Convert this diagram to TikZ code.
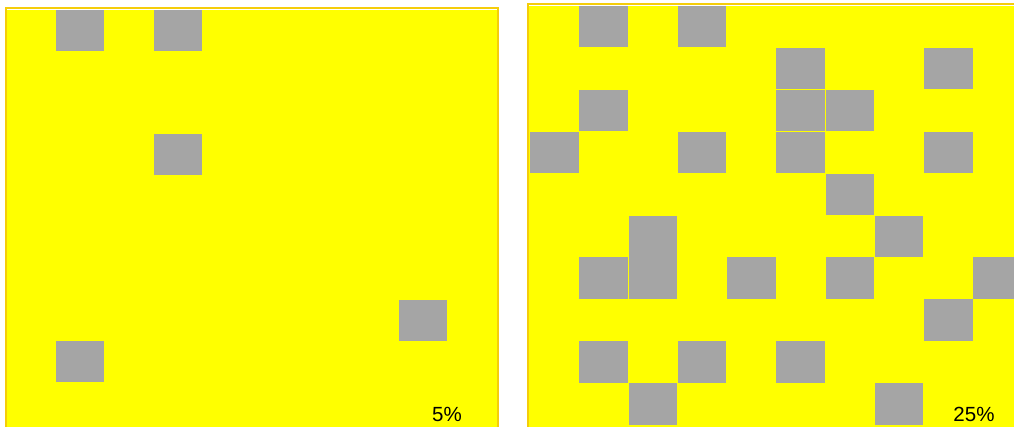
\documentclass[tikz,border=0pt]{standalone}
\usepackage{fontspec}
\setmainfont{Liberation Sans}
\definecolor{frame}{RGB}{245,205,10}
\definecolor{cellgray}{RGB}{165,165,165}
\definecolor{bg}{RGB}{255,255,0}
\tikzset{
  cell/.style={fill=cellgray},
  pct/.style={font=\fontsize{20.5}{24}\selectfont, inner sep=0pt, anchor=base, text=black}
}
\begin{document}
\begin{tikzpicture}[x=1pt,y=-1pt]
\useasboundingbox (0,0) rectangle (1014,426);
\clip (0,0) rectangle (1014,426);
% left panel
\fill[frame] (4.8,6.8) rectangle (499.2,440);
\fill[white] (6.6,8.7) rectangle (497.4,440);
\fill[bg] (7.3,9.5) rectangle (496.7,440);
\foreach \c/\r in {1/0,3/0,3/3,8/7,1/8}{
  \fill[cell] ({6.5+49*\c},{10+41.4*\r}) rectangle ++(48.5,40.8);
}
% right panel
\fill[frame] (526.8,2.8) rectangle (1030,440);
\fill[white] (528.6,4.7) rectangle (1030,440);
\fill[bg] (529.3,5.5) rectangle (1030,440);
\foreach \c/\r in {1/0,3/0,5/1,8/1,1/2,5/2,6/2,0/3,3/3,5/3,8/3,6/4,2/5,7/5,1/6,2/6,4/6,6/6,9/6,8/7,1/8,3/8,5/8,2/9,7/9}{
  \fill[cell] ({530+49.25*\c},{6+41.9*\r}) rectangle ++(48.7,41.4);
}
\node[pct] (lbl5) at (447,421) {5\%};
\node[pct] (lbl25) at (974,421) {25\%};
\end{tikzpicture}
\end{document}
